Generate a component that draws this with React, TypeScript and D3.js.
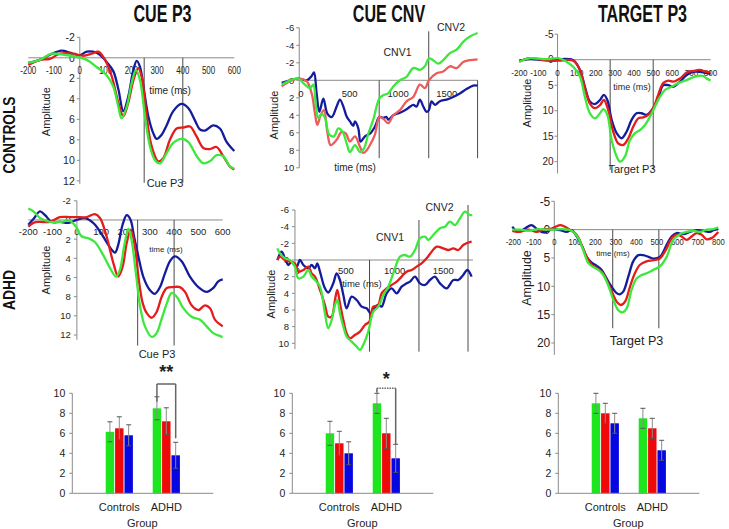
import React from 'react';
import * as d3 from 'd3';

type Pt = [number, number];

// ---------- colours ----------
const BLUE = '#141c9c';
const RED = '#e41c1c';
const RED_LIGHT = '#ef5a5a';
const GREEN = '#3ce83c';
const BAR_GREEN = '#1ee61e';
const BAR_RED = '#ee0808';
const BAR_BLUE = '#0606e0';

// ---------- tick labels ----------
const cueP3XTicks = [-200, -100, 0, 100, 200, 300, 400, 500, 600];
const cueP3YTicks = [-2, 0, 2, 4, 6, 8, 10, 12];
const cnvXTicks = [0, 500, 1000, 1500];
const cnvYTicks = [-6, -4, -2, 0, 2, 4, 6, 8, 10];
const targetXTicks = [-200, -100, 0, 100, 200, 300, 400, 500, 600, 700, 800];
const targetYTicks = [-5, 0, 5, 10, 15, 20];
const barYTicks = [0, 2, 4, 6, 8, 10];
const groups = ['Controls', 'ADHD'];
const barSeries = ['s1', 's2', 's3'];

// ---------- Cue P3, Controls ----------
const cueP3CtrlBlue: Pt[] = [[-200,0.5],[-155,0.2],[-116,-0.3],[-71,-0.7],[-38,-0.5],[-6,-0.2],[27,-0.6],[52,-0.6],[78,-0.3],[104,0.4],[130,1.3],[150,3.1],[169,5.2],[188,3.8],[208,1.2],[221,0.3],[234,0.9],[249,3.1],[266,5.7],[286,7.4],[298,7.9],[318,7.5],[337,6.6],[363,5.2],[395,4.5],[421,4.9],[447,6.1],[467,7.0],[486,7.1],[518,6.6],[544,6.9],[570,8.2],[600,9.1]];
const cueP3CtrlRed: Pt[] = [[-200,0.7],[-155,0.2],[-116,0.1],[-77,-0.4],[-25,-0.4],[14,-0.2],[46,-0.4],[72,-0.6],[98,0.2],[124,1.8],[150,4.4],[169,5.7],[188,4.4],[208,2.2],[227,1.0],[240,1.8],[257,5.1],[273,8.0],[292,9.6],[304,10.1],[324,9.8],[350,8.0],[376,6.9],[402,6.8],[428,6.7],[454,7.7],[480,8.8],[505,8.9],[531,8.7],[557,9.6],[583,10.6],[600,10.9]];
const cueP3CtrlGreen: Pt[] = [[-200,0.5],[-155,0.2],[-109,-0.4],[-64,-0.3],[-12,-0.1],[27,0.2],[65,0.9],[104,1.7],[130,2.8],[150,4.8],[162,5.9],[182,4.8],[201,2.5],[218,1.2],[234,2.2],[253,5.7],[273,8.7],[292,10.0],[311,10.3],[337,9.3],[363,8.3],[395,7.9],[421,8.2],[454,9.6],[480,10.3],[505,10.1],[531,9.5],[557,9.6],[583,10.6],[600,10.8]];

// ---------- Cue CNV, Controls ----------
const cnvCtrlBlue: Pt[] = [[-199,0.3],[-113,0],[-27,-0.2],[58,0],[110,-0.5],[134,-0.9],[161,1.5],[189,3.6],[230,2.1],[271,3.8],[316,4.2],[367,3.0],[401,2.2],[442,3.2],[470,4.15],[504,4.7],[538,5.2],[556,4.7],[590,5.5],[614,7.0],[658,6.4],[710,6.1],[761,5.3],[806,4.2],[847,4.3],[881,4.2],[898,4.5],[950,4.0],[1019,3.7],[1087,3.3],[1156,2.8],[1190,3.0],[1224,2.2],[1259,3.0],[1293,3.6],[1317,3.4],[1344,2.4],[1379,2.8],[1430,2.4],[1499,2.2],[1567,1.9],[1636,1.5],[1704,1.0],[1773,0.6],[1818,0.6]];
const cnvCtrlRed: Pt[] = [[-199,0.7],[-113,0.1],[-27,-0.2],[58,0.1],[110,1.5],[144,3.8],[168,5.1],[202,4.0],[237,3.4],[271,5.9],[305,7.4],[367,6.8],[418,5.9],[463,6.1],[504,7.0],[556,6.4],[607,7.6],[641,8.3],[676,8.0],[710,7.4],[761,6.2],[806,4.2],[847,4.4],[898,4.9],[950,4.0],[1019,3.4],[1087,2.4],[1156,1.9],[1224,0.5],[1276,0.9],[1317,0],[1396,-0.8],[1464,-1.0],[1533,-1.6],[1602,-1.4],[1670,-2.1],[1739,-2.3],[1818,-2.4]];
const cnvCtrlGreen: Pt[] = [[-199,0.5],[-113,0],[-27,-0.2],[41,0.5],[93,0.9],[127,0.5],[154,3.0],[178,4.3],[213,3.8],[247,4.3],[291,6.2],[340,6.4],[384,5.5],[429,5.9],[470,7.2],[504,8.2],[556,7.4],[607,8.2],[648,7.8],[693,6.1],[744,4.5],[806,2.1],[847,1.7],[898,1.5],[950,0.7],[1019,0],[1087,-0.4],[1156,-1.4],[1224,-1.2],[1276,-1.6],[1317,-2.5],[1361,-2.3],[1413,-1.9],[1464,-2.3],[1533,-3.1],[1602,-3.5],[1670,-4.4],[1739,-5.0],[1818,-5.4]];

// ---------- Target P3, Controls ----------
const tgtCtrlBlue: Pt[] = [[-200,0.2],[-144,-0.1],[-57,0.1],[4,-0.1],[82,0.1],[117,2.0],[143,5.3],[169,8.2],[195,8.7],[222,7.9],[242,6.9],[260,7.9],[283,11.8],[309,14.4],[335,15.4],[361,14.1],[387,11.8],[413,10.5],[439,10.5],[465,10.8],[500,9.5],[526,7.6],[552,5.0],[579,5.0],[605,5.3],[640,4.3],[675,3.0],[710,2.4],[744,2.4],[800,2.8]];
const tgtCtrlRed: Pt[] = [[-200,0.4],[-144,-0.3],[-57,0.2],[4,0.2],[82,0.2],[117,2.0],[143,5.6],[169,8.6],[195,9.5],[222,8.9],[242,7.9],[265,9.9],[291,14.1],[317,16.4],[344,16.7],[370,15.4],[396,13.1],[422,11.5],[448,11.3],[474,10.8],[500,9.5],[526,6.9],[552,4.6],[579,4.1],[605,4.3],[640,3.7],[675,2.5],[710,2.2],[744,2.0],[779,2.4],[800,2.4]];
const tgtCtrlGreen: Pt[] = [[-200,0.4],[-144,-0.3],[-57,-0.1],[4,-0.3],[47,0.4],[82,1.4],[117,3.3],[143,7.3],[169,10.5],[195,11.5],[222,10.5],[239,9.7],[260,10.8],[283,15.8],[309,19.0],[326,20.0],[352,19.0],[378,15.8],[405,14.4],[431,13.8],[457,12.8],[483,11.2],[509,9.2],[535,7.3],[562,5.9],[596,5.3],[631,4.6],[675,4.0],[718,3.3],[762,3.2],[779,3.7],[800,4.1]];

// ---------- Cue P3, ADHD ----------
const cueP3AdhdBlue: Pt[] = [[-200,0.5],[-179,-0.1],[-152,-0.9],[-131,-0.5],[-104,0.2],[-70,0.2],[-35,0.3],[-1,0],[33,-0.2],[67,0.3],[95,1.2],[122,2.3],[143,3.1],[157,3.4],[170,2.6],[188,0.5],[205,-0.5],[221,0],[235,1.7],[253,3.8],[273,5.9],[300,7.3],[321,7.7],[342,7.0],[362,5.6],[383,4.3],[403,3.8],[431,4.3],[465,5.9],[500,7.0],[534,7.5],[561,7.1],[582,6.4],[600,6.2]];
const cueP3AdhdRed: Pt[] = [[-200,0.7],[-179,0.3],[-152,0.2],[-111,0.2],[-70,-0.3],[-29,-0.3],[-1,-0.3],[40,-0.3],[74,-0.6],[95,-0.2],[122,1.7],[150,4.5],[170,5.9],[188,4.9],[205,2.4],[222,1.0],[239,2.8],[253,5.9],[271,8.7],[287,9.7],[308,10.2],[328,9.6],[349,8.0],[370,7.1],[397,7.0],[424,7.0],[445,7.5],[472,8.9],[500,9.4],[527,8.9],[548,9.2],[568,10.4],[600,11.1]];
const cueP3AdhdGreen: Pt[] = [[-200,-1.2],[-179,-0.9],[-152,-0.2],[-111,0.2],[-70,0.2],[-29,0.1],[-4,0.7],[19,1.7],[47,1.9],[74,2.3],[109,3.7],[136,5.0],[161,5.9],[177,5.2],[194,2.8],[212,0.9],[225,2.1],[243,5.6],[260,9.0],[280,11.1],[308,12.2],[328,11.8],[349,10.3],[370,8.7],[390,7.6],[411,8.0],[438,9.2],[472,10.1],[507,10.4],[534,11.1],[561,11.8],[600,12.2]];

// ---------- Cue CNV, ADHD ----------
const cnvAdhdBlue: Pt[] = [[-205,0],[-161,-1.0],[-127,-0.2],[-92,0.6],[-58,0.2],[-7,0.8],[27,0],[62,0.6],[113,1.0],[147,0.6],[182,1.0],[205,0.4],[233,1.4],[284,3.4],[318,3.9],[370,2.8],[404,1.6],[438,2.4],[473,4.2],[507,5.8],[558,4.4],[610,4.8],[661,5.6],[712,5.8],[753,6.4],[788,5.8],[832,5.4],[866,5.6],[918,4.0],[969,3.4],[1021,4.0],[1072,3.2],[1123,2.8],[1158,2.6],[1209,2.0],[1260,2.8],[1312,3.0],[1363,2.4],[1414,2.0],[1466,2.8],[1534,3.4],[1603,2.4],[1654,2.4],[1705,1.8],[1747,1.2],[1791,2.0]];
const cnvAdhdRed: Pt[] = [[-205,0],[-178,-0.4],[-127,0],[-75,0.2],[-24,0.4],[10,1.4],[62,1.2],[113,0.8],[147,1.6],[182,2.0],[233,3.6],[284,5.4],[318,6.8],[353,6.8],[387,4.8],[411,3.6],[438,5.2],[473,7.2],[507,8.8],[541,9.4],[592,9.0],[644,8.6],[695,7.8],[740,7.4],[781,5.6],[832,5.4],[866,4.0],[918,3.4],[969,3.0],[1021,2.6],[1072,2.0],[1123,1.4],[1175,1.2],[1226,0.8],[1277,0.4],[1329,-0.2],[1380,-1.0],[1432,-1.6],[1500,-1.4],[1551,-1.2],[1603,-1.4],[1654,-1.2],[1705,-1.8],[1757,-2.1],[1791,-2.2]];
const cnvAdhdGreen: Pt[] = [[-205,-1.4],[-178,-0.8],[-127,-0.2],[-75,0],[-24,0.8],[10,2.2],[62,2.0],[113,1.2],[147,2.0],[182,2.4],[233,3.2],[284,6.4],[318,8.2],[353,7.2],[387,5.4],[411,4.8],[438,6.4],[473,8.0],[507,9.2],[558,9.8],[610,10.4],[644,10.8],[685,10.0],[729,8.6],[781,6.2],[832,5.6],[884,4.2],[935,3.2],[986,1.6],[1021,0.4],[1055,-0.4],[1106,-0.6],[1158,-0.4],[1209,-1.2],[1260,-2.6],[1312,-2.8],[1346,-2.4],[1397,-3.0],[1466,-3.8],[1517,-4.0],[1568,-4.6],[1620,-4.2],[1671,-5.0],[1723,-5.8],[1774,-5.4],[1798,-5.4]];

// ---------- Target P3, ADHD ----------
const tgtAdhdBlue: Pt[] = [[-205,-0.5],[-176,0.4],[-143,-0.2],[-111,-0.8],[-78,0.1],[-46,0.5],[-13,-0.1],[28,0.1],[60,0.4],[85,0.1],[109,1.2],[133,2.7],[158,4.8],[182,5.8],[207,6.4],[231,7.1],[255,8.6],[280,10.1],[304,11.2],[320,11.4],[337,10.9],[361,8.3],[385,5.6],[410,4.5],[434,4.5],[459,4.8],[483,5.1],[515,4.8],[548,2.7],[572,1.2],[597,0.6],[629,0.8],[662,0.4],[694,0.1],[727,0.2],[759,0.4],[776,0.1],[800,-0.1]];
const tgtAdhdRed: Pt[] = [[-205,0.2],[-167,0.4],[-127,0],[-86,0.4],[-54,0],[-13,-0.2],[28,-0.8],[52,-0.5],[76,0],[109,0.9],[133,2.7],[158,4.8],[182,6.2],[207,6.8],[231,7.4],[255,8.9],[280,10.9],[304,12.7],[324,13.3],[345,12.7],[369,10.1],[393,7.7],[418,6.2],[450,5.6],[483,5.4],[515,5.1],[548,3.3],[572,1.5],[597,0.9],[621,1.2],[646,1.8],[670,1.2],[694,0.6],[719,0.9],[743,1.7],[767,1.5],[800,0.4]];
const tgtAdhdGreen: Pt[] = [[-205,0],[-167,0],[-127,0.2],[-78,-0.1],[-37,0],[-5,0],[36,-0.1],[68,0],[93,0.4],[117,1.5],[141,3.6],[166,5.9],[190,6.6],[215,7.1],[239,8.0],[263,9.8],[288,12.4],[312,14.2],[333,14.6],[353,13.9],[377,10.6],[402,8.6],[426,8.0],[450,7.7],[483,7.1],[515,6.5],[548,4.8],[580,1.8],[613,0.8],[646,0.4],[678,0.2],[711,0.4],[743,0],[776,-0.1],[800,-0.4]];

// ---------- bar charts (means and error bars, Controls / ADHD x three series) ----------
const cueP3Means = [[6.15, 6.5, 5.8], [8.5, 7.2, 3.8]];
const cueP3Errs = [[1.0, 1.15, 1.05], [1.15, 1.35, 1.3]];
const cnvMeans = [[6.0, 5.0, 4.0], [9.0, 6.0, 3.5]];
const cnvErrs = [[1.2, 1.2, 1.15], [1.0, 1.5, 1.4]];
const targetMeans = [[9.0, 8.0, 7.0], [7.5, 6.5, 4.3]];
const targetErrs = [[1.0, 1.0, 1.0], [1.0, 1.0, 1.0]];

const FONT = "'Liberation Sans', Arial, sans-serif";
const TITLE_FONT = "'Liberation Sans', Arial, sans-serif";
const TXT = '#1e1e1e';
const AXIS = '#8a8a8a';

interface Series { data: Pt[]; color: string }
interface Label { s: string; x: number; y: number; size: number }
interface ErpCfg {
  xDom: [number, number]; xRng: [number, number];
  yDom: [number, number]; yRng: [number, number];
  yAxisT: number; yAxisA: [number, number]; xAxisT: [number, number];
  xTicks: number[]; yTicks: number[];
  xFont: number; xScale: number; xDy: number;
  yFont: number; yGap: number;
  markers: [number, number, number][];
  series: Series[];
  labels: Label[];
  amp: { x: number; y: number; size: number };
}

function ErpPanel({ c }: { c: ErpCfg }) {
  const x = d3.scaleLinear().domain(c.xDom).range(c.xRng);
  const y = d3.scaleLinear().domain(c.yDom).range(c.yRng);
  const line = d3.line<Pt>().x(d => x(d[0])).y(d => y(d[1])).curve(d3.curveCatmullRom.alpha(0.5));
  const ax = x(c.yAxisT);
  const ay = y(0);
  return (
    <g fontFamily={FONT} fill={TXT}>
      <line x1={ax} x2={ax} y1={y(c.yAxisA[0])} y2={y(c.yAxisA[1])} stroke={AXIS} strokeWidth={1} />
      {c.yTicks.map(v => (
        <g key={'y' + v}>
          <line x1={ax - 3} x2={ax} y1={y(v)} y2={y(v)} stroke={AXIS} />
          <text x={ax - c.yGap} y={y(v)} dy="0.36em" textAnchor="end" fontSize={c.yFont}>{v}</text>
        </g>
      ))}
      <line x1={x(c.xAxisT[0])} x2={x(c.xAxisT[1])} y1={ay} y2={ay} stroke={AXIS} strokeWidth={1} />
      {c.xTicks.map(v => (
        <text key={'x' + v} transform={`translate(${x(v)},${ay + c.xDy}) scale(${c.xScale},1)`} textAnchor="middle" fontSize={c.xFont}>{v}</text>
      ))}
      {c.markers.map((m, i) => (
        <line key={'m' + i} x1={x(m[0])} x2={x(m[0])} y1={y(m[1])} y2={y(m[2])} stroke="#4a4a4a" strokeWidth={1} />
      ))}
      {c.labels.map((l, i) => (
        <text key={'l' + i} x={l.x} y={l.y} textAnchor="middle" fontSize={l.size}>{l.s}</text>
      ))}
      <text transform={`translate(${c.amp.x},${c.amp.y}) rotate(-90)`} textAnchor="middle" fontSize={c.amp.size}>Amplitude</text>
      {c.series.map((s, i) => (
        <path key={'s' + i} d={line(s.data) || ''} fill="none" stroke={s.color} strokeWidth={2.3} strokeLinejoin="round" />
      ))}
    </g>
  );
}

interface BarCfg {
  x0: number; means: number[][]; errs: number[][];
  bracket: { top: number; left: number; right: number; dotted: boolean; label: string; labelY: number } | null;
}

function BarPanel({ c }: { c: BarCfg }) {
  const y = d3.scaleLinear().domain([0, 10]).range([493.3, 393.3]);
  const gx = d3.scalePoint<string>().domain(groups).range([c.x0, c.x0 + 141]).padding(1);
  const bx = d3.scaleBand<string>().domain(barSeries).range([-13.6, 13.6]).paddingInner(0.1);
  const colors = [BAR_GREEN, BAR_RED, BAR_BLUE];
  const bw = bx.bandwidth();
  const cx = (g: number, s: number) => (gx(groups[g]) as number) + (bx(barSeries[s]) as number) + bw / 2;
  const b = c.bracket;
  const lx = cx(1, 0), rx = cx(1, 2);
  return (
    <g fontFamily={FONT} fill={TXT}>
      <line x1={c.x0} x2={c.x0} y1={y(0)} y2={y(10)} stroke={AXIS} />
      {barYTicks.map(v => (
        <g key={v}>
          <line x1={c.x0 - 3} x2={c.x0} y1={y(v)} y2={y(v)} stroke={AXIS} />
          <text x={c.x0 - 7} y={y(v)} dy="0.36em" textAnchor="end" fontSize={10.5}>{v}</text>
        </g>
      ))}
      {c.means.map((row, g) => row.map((m, s) => (
        <rect key={g + '-' + s} x={cx(g, s) - bw / 2} y={y(m)} width={bw} height={y(0) - y(m)} fill={colors[s]} />
      )))}
      {c.means.map((row, g) => row.map((m, s) => {
        const e = c.errs[g][s];
        const xc = cx(g, s);
        return (
          <g key={'e' + g + s}>
            <line x1={xc} x2={xc} y1={y(m - e)} y2={y(m + e)} stroke="#8c8c8c" strokeWidth={1} />
            <line x1={xc - 2.5} x2={xc + 2.5} y1={y(m + e)} y2={y(m + e)} stroke="#555" strokeWidth={1} />
            <line x1={xc - 2.5} x2={xc + 2.5} y1={y(m - e)} y2={y(m - e)} stroke="#555" strokeWidth={1} />
          </g>
        );
      }))}
      <line x1={c.x0} x2={c.x0 + 141} y1={y(0)} y2={y(0)} stroke={AXIS} />
      {groups.map(g => (
        <text key={g} x={gx(g)} y={511} textAnchor="middle" fontSize={11}>{g}</text>
      ))}
      <text x={c.x0 + 70} y={527} textAnchor="middle" fontSize={11}>Group</text>
      {b && (
        <g>
          <line x1={lx} x2={lx} y1={y(b.left)} y2={y(b.top)} stroke="#666" strokeWidth={1.5} />
          <line x1={lx} x2={rx} y1={y(b.top)} y2={y(b.top)} stroke="#666" strokeWidth={1.5} strokeDasharray={b.dotted ? '1.5,1' : undefined} />
          <line x1={rx} x2={rx} y1={y(b.top)} y2={y(b.right)} stroke="#666" strokeWidth={1.5} />
          <text x={(lx + rx) / 2} y={b.labelY} textAnchor="middle" fontSize={18} fontWeight="bold">{b.label}</text>
        </g>
      )}
    </g>
  );
}

const panels: ErpCfg[] = [
  {
    xDom: [-200, 600], xRng: [28.3, 234.3], yDom: [-2, 12], yRng: [37.3, 180.8],
    yAxisT: 0, yAxisA: [-2, 12.3], xAxisT: [-200, 600], xTicks: cueP3XTicks, yTicks: cueP3YTicks,
    xFont: 10, xScale: 0.8, xDy: 15.7, yFont: 10.5, yGap: 5,
    markers: [[250, 0, 12.2], [400, 0, 12.2]],
    series: [{ data: cueP3CtrlBlue, color: BLUE }, { data: cueP3CtrlRed, color: RED }, { data: cueP3CtrlGreen, color: GREEN }],
    labels: [{ s: 'time (ms)', x: 170, y: 94, size: 10 }, { s: 'Cue P3', x: 165, y: 187, size: 11 }],
    amp: { x: 49.5, y: 111.7, size: 11 },
  },
  {
    xDom: [0, 1500], xRng: [301, 446.7], yDom: [0, 10], yRng: [80.3, 167.8],
    yAxisT: -18, yAxisA: [-6, 10], xAxisT: [-18, 1820], xTicks: cnvXTicks, yTicks: cnvYTicks,
    xFont: 9.5, xScale: 1, xDy: 16.5, yFont: 9.5, yGap: 5,
    markers: [[805, 0, 8.9], [1315, -5.6, 8.9], [1818, 0, 8.9]],
    series: [{ data: cnvCtrlBlue, color: BLUE }, { data: cnvCtrlRed, color: RED_LIGHT }, { data: cnvCtrlGreen, color: GREEN }],
    labels: [{ s: 'CNV1', x: 397.5, y: 56, size: 10.5 }, { s: 'CNV2', x: 451, y: 31, size: 10.5 }, { s: 'time (ms)', x: 355, y: 171, size: 10 }],
    amp: { x: 277.7, y: 115, size: 11 },
  },
  {
    xDom: [-200, 800], xRng: [519.3, 710.6], yDom: [-5, 20], yRng: [34.2, 161.7],
    yAxisT: 0, yAxisA: [-5, 22.3], xAxisT: [-200, 800], xTicks: targetXTicks, yTicks: targetYTicks,
    xFont: 9.5, xScale: 0.85, xDy: 15.8, yFont: 10, yGap: 4,
    markers: [[275, 0, 21.6], [500, 0, 21.6]],
    series: [{ data: tgtCtrlBlue, color: BLUE }, { data: tgtCtrlRed, color: RED }, { data: tgtCtrlGreen, color: GREEN }],
    labels: [{ s: 'time (ms)', x: 632, y: 90, size: 9 }, { s: 'Target P3', x: 632, y: 173, size: 11 }],
    amp: { x: 531, y: 103, size: 11 },
  },
  {
    xDom: [-200, 600], xRng: [28.3, 222.7], yDom: [-2, 12], yRng: [200.8, 335],
    yAxisT: 0, yAxisA: [-2, 12.5], xAxisT: [-200, 600], xTicks: cueP3XTicks, yTicks: cueP3YTicks,
    xFont: 9.5, xScale: 1, xDy: 15.5, yFont: 9.5, yGap: 6,
    markers: [[250, 0, 13.1], [400, 0, 13.1]],
    series: [{ data: cueP3AdhdBlue, color: BLUE }, { data: cueP3AdhdRed, color: RED }, { data: cueP3AdhdGreen, color: GREEN }],
    labels: [{ s: 'time (ms)', x: 166, y: 251.5, size: 8 }, { s: 'Cue P3', x: 157, y: 358, size: 11 }],
    amp: { x: 49.5, y: 270, size: 11 },
  },
  {
    xDom: [0, 1500], xRng: [297.3, 443.3], yDom: [0, 10], yRng: [260, 343.3],
    yAxisT: -24, yAxisA: [-6, 10.7], xAxisT: [-24, 1805], xTicks: cnvXTicks, yTicks: cnvYTicks,
    xFont: 9.5, xScale: 1, xDy: 13.8, yFont: 9.5, yGap: 6,
    markers: [[742, 0, 11], [1250, -4.8, 11], [1754, -6.6, 11]],
    series: [{ data: cnvAdhdBlue, color: BLUE }, { data: cnvAdhdRed, color: RED }, { data: cnvAdhdGreen, color: GREEN }],
    labels: [{ s: 'CNV1', x: 390, y: 240.5, size: 10.5 }, { s: 'CNV2', x: 439.5, y: 210.5, size: 10.5 }, { s: 'time (ms)', x: 362, y: 287, size: 9.5 }],
    amp: { x: 274.5, y: 294, size: 11 },
  },
  {
    xDom: [-200, 800], xRng: [513.3, 718.3], yDom: [-5, 20], yRng: [201.3, 343],
    yAxisT: 0, yAxisA: [-5, 22.1], xAxisT: [-200, 800], xTicks: targetXTicks, yTicks: targetYTicks,
    xFont: 8.5, xScale: 0.9, xDy: 15.3, yFont: 12, yGap: 4,
    markers: [[285, 0, 17.4], [510, 0, 17.4]],
    series: [{ data: tgtAdhdBlue, color: BLUE }, { data: tgtAdhdRed, color: RED }, { data: tgtAdhdGreen, color: GREEN }],
    labels: [{ s: 'time (ms)', x: 613, y: 256, size: 8 }, { s: 'Target P3', x: 636.5, y: 345, size: 12.5 }],
    amp: { x: 531, y: 278, size: 12.5 },
  },
];

const bars: BarCfg[] = [
  { x0: 72.3, means: cueP3Means, errs: cueP3Errs, bracket: { top: 10.93, left: 9.16, right: 5.5, dotted: false, label: '**', labelY: 378 } },
  { x0: 292.3, means: cnvMeans, errs: cnvErrs, bracket: { top: 10.5, left: 10.06, right: 4.83, dotted: true, label: '*', labelY: 384.5 } },
  { x0: 558.3, means: targetMeans, errs: targetErrs, bracket: null },
];

const titles: { s: string; x: number }[] = [
  { s: 'CUE P3', x: 162.5 },
  { s: 'CUE CNV', x: 389 },
  { s: 'TARGET P3', x: 642.5 },
];

export default function App() {
  return (
    <svg width={729} height={529} style={{ position: 'absolute', left: 0, top: 0, background: '#fff' }}>
      <rect width={729} height={529} fill="#fff" />
      {titles.map(t => (
        <text key={t.s} transform={`translate(${t.x},22) scale(0.7,1)`} textAnchor="middle" fontFamily={TITLE_FONT}
          fontWeight="bold" fontSize={23} fill="#111">{t.s}</text>
      ))}
      <text transform="translate(15,135) rotate(-90)" textAnchor="middle" fontFamily={TITLE_FONT} fontWeight="bold" fontSize={16}
        textLength={77} lengthAdjust="spacingAndGlyphs" fill="#111">CONTROLS</text>
      <text transform="translate(15,290) rotate(-90)" textAnchor="middle" fontFamily={TITLE_FONT} fontWeight="bold" fontSize={16}
        textLength={40} lengthAdjust="spacingAndGlyphs" fill="#111">ADHD</text>
      {panels.map((p, i) => <ErpPanel key={i} c={p} />)}
      {bars.map((b, i) => <BarPanel key={'b' + i} c={b} />)}
    </svg>
  );
}
